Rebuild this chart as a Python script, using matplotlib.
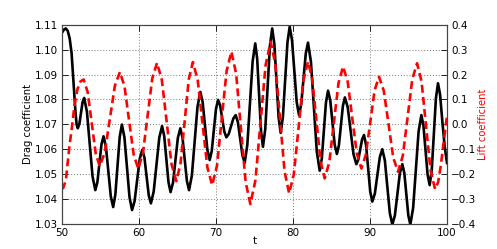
import matplotlib
matplotlib.use("Agg")
import matplotlib.pyplot as plt

# Drag coefficient (black solid)
t_drag = [50.0, 50.25, 50.5, 50.75, 51.0, 51.25, 51.5, 51.75, 51.9, 52.05,
          52.26, 52.47, 52.67, 52.88,
          53.24, 53.6, 53.97, 54.33,
          54.6, 54.87, 55.13, 55.4,
          55.71, 56.03, 56.34, 56.65,
          56.93, 57.22, 57.5, 57.78,
          58.11, 58.44, 58.77, 59.1,
          59.43, 59.77, 60.1, 60.43,
          60.71, 60.99, 61.27, 61.55,
          61.91, 62.28, 62.64, 63.0,
          63.28, 63.55, 63.83, 64.1,
          64.42, 64.74, 65.05, 65.37,
          65.65, 65.94, 66.22, 66.5,
          66.87, 67.24, 67.6, 67.97,
          68.27, 68.58, 68.88, 69.18,
          69.45, 69.73, 70.0, 70.27,
          70.54, 70.81, 71.08, 71.35,
          71.65, 71.96, 72.26, 72.56,
          72.85, 73.15, 73.44, 73.73,
          74.07, 74.42, 74.76, 75.1,
          75.35, 75.6, 75.85, 76.1,
          76.4, 76.7, 77.0, 77.3,
          77.58, 77.85, 78.13, 78.4,
          78.69, 78.99, 79.28, 79.57,
          79.87, 80.18, 80.48, 80.78,
          81.07, 81.37, 81.66, 81.95,
          82.33, 82.71, 83.09, 83.47,
          83.74, 84.01, 84.28, 84.55,
          84.84, 85.13, 85.41, 85.7,
          85.96, 86.22, 86.48, 86.74,
          87.11, 87.49, 87.86, 88.23,
          88.48, 88.73, 88.97, 89.22,
          89.49, 89.76, 90.03, 90.3,
          90.63, 90.95, 91.28, 91.6,
          91.93, 92.25, 92.58, 92.9,
          93.23, 93.55, 93.88, 94.2,
          94.46, 94.72, 94.98, 95.24,
          95.6, 95.96, 96.31, 96.67,
          96.94, 97.21, 97.48, 97.75,
          98.02, 98.29, 98.56, 98.83,
          99.1, 99.4, 99.7, 100.0]
drag = [1.1068, 1.1080, 1.1085, 1.1075, 1.1045, 1.0985, 1.0870, 1.0750, 1.0700, 1.0684,
        1.0702, 1.0745, 1.0788, 1.0806,
        1.0751, 1.0621, 1.0491, 1.0436,
        1.0468, 1.0544, 1.0620, 1.0652,
        1.0609, 1.0510, 1.0411, 1.0368,
        1.0418, 1.0534, 1.0650, 1.0699,
        1.0648, 1.0528, 1.0408, 1.0356,
        1.0392, 1.0477, 1.0562, 1.0598,
        1.0566, 1.0491, 1.0415, 1.0383,
        1.0430, 1.0538, 1.0647, 1.0693,
        1.0653, 1.0561, 1.0468, 1.0428,
        1.0466, 1.0556, 1.0646, 1.0684,
        1.0647, 1.0560, 1.0473, 1.0436,
        1.0495, 1.0633, 1.0771, 1.0830,
        1.0789, 1.0694, 1.0598, 1.0557,
        1.0593, 1.0678, 1.0762, 1.0798,
        1.0776, 1.0723, 1.0671, 1.0648,
        1.0661, 1.0693, 1.0724, 1.0737,
        1.0708, 1.0642, 1.0575, 1.0546,
        1.0618, 1.0786, 1.0953, 1.1025,
        1.0963, 1.0818, 1.0672, 1.0610,
        1.0681, 1.0848, 1.1014, 1.1085,
        1.1022, 1.0876, 1.0729, 1.0666,
        1.0730, 1.0879, 1.1028, 1.1092,
        1.1039, 1.0915, 1.0790, 1.0737,
        1.0781, 1.0883, 1.0984, 1.1028,
        1.0951, 1.0771, 1.0591, 1.0514,
        1.0562, 1.0675, 1.0787, 1.0835,
        1.0797, 1.0708, 1.0619, 1.0581,
        1.0615, 1.0695, 1.0774, 1.0808,
        1.0768, 1.0674, 1.0580, 1.0540,
        1.0558, 1.0599, 1.0639, 1.0657,
        1.0617, 1.0524, 1.0430, 1.0390,
        1.0422, 1.0495, 1.0569, 1.0600,
        1.0555, 1.0449, 1.0343, 1.0298,
        1.0334, 1.0419, 1.0504, 1.0540,
        1.0504, 1.0419, 1.0334, 1.0298,
        1.0364, 1.0518, 1.0671, 1.0737,
        1.0695, 1.0597, 1.0498, 1.0456,
        1.0517, 1.0661, 1.0804, 1.0865,
        1.0820, 1.0710, 1.0610, 1.0545]

# Lift coefficient (red dashed)
t_lift = [50.0, 50.15, 50.5, 50.96, 51.3, 51.6, 52.0, 52.4, 52.82,
          53.34, 53.86, 54.38, 54.9,
          55.56, 56.21, 56.87, 57.52,
          58.12, 58.71, 59.31, 59.9,
          60.51, 61.12, 61.73, 62.34,
          62.97, 63.6, 64.22, 64.85,
          65.39, 65.93, 66.46, 67.0,
          67.63, 68.25, 68.88, 69.5,
          70.13, 70.75, 71.38, 72.0,
          72.62, 73.23, 73.85, 74.46,
          75.12, 75.78, 76.44, 77.1,
          77.7, 78.3, 78.9, 79.5,
          80.11, 80.73, 81.34, 81.95,
          82.49, 83.04, 83.58, 84.12,
          84.72, 85.31, 85.91, 86.5,
          87.1, 87.69, 88.29, 88.88,
          89.45, 90.03, 90.6, 91.17,
          91.79, 92.41, 93.02, 93.64,
          94.26, 94.88, 95.49, 96.11,
          96.7, 97.28, 97.87, 98.45,
          98.85, 99.2, 99.55, 100.0]
lift = [-0.250, -0.256, -0.225, -0.090, -0.010, 0.071, 0.140, 0.172, 0.180,
        0.129, 0.006, -0.117, -0.168,
        -0.113, 0.021, 0.155, 0.210,
        0.153, 0.016, -0.121, -0.178,
        -0.116, 0.0345, 0.185, 0.247,
        0.178, 0.0095, -0.159, -0.228,
        -0.158, 0.011, 0.180, 0.250,
        0.178, 0.003, -0.172, -0.244,
        -0.166, 0.024, 0.214, 0.292,
        0.203, -0.014, -0.231, -0.320,
        -0.225, 0.006, 0.237, 0.332,
        0.243, 0.0275, -0.188, -0.277,
        -0.200, -0.0125, 0.175, 0.252,
        0.184, 0.0175, -0.149, -0.217,
        -0.151, 0.0075, 0.166, 0.232,
        0.172, 0.0275, -0.117, -0.177,
        -0.123, 0.007, 0.137, 0.191,
        0.135, 0.0005, -0.134, -0.190,
        -0.126, 0.0275, 0.181, 0.245,
        0.171, -0.0075, -0.186, -0.260,
        -0.232, -0.165, -0.075, 0.035]

drag_ticks = [1.03, 1.04, 1.05, 1.06, 1.07, 1.08, 1.09, 1.10, 1.11]
lift_ticks = [-0.4, -0.3, -0.2, -0.1, 0.0, 0.1, 0.2, 0.3, 0.4]
t_ticks = [50, 60, 70, 80, 90, 100]

fig = plt.figure(figsize=(4.97, 2.49), dpi=100)
ax1 = fig.add_axes([0.1247, 0.1004, 0.7747, 0.8004])
ax2 = ax1.twinx()

ax1.plot(t_drag, drag, color="black", lw=1.9, solid_joinstyle="round", zorder=3)
ax2.plot(t_lift, lift, color="red", lw=1.9, linestyle=(0, (3.0, 1.6)))

ax1.set_xlim(50, 100)
ax1.set_ylim(1.03, 1.11)
ax2.set_ylim(-0.4, 0.4)
ax1.set_xticks(t_ticks)
ax1.set_yticks(drag_ticks)
ax1.set_yticklabels(["%.2f" % v for v in drag_ticks])
ax2.set_yticks(lift_ticks)
ax2.set_yticklabels([("\u2212%.1f" % -v) if v < 0 else "%.1f" % v for v in lift_ticks])

ax1.grid(True, color="#777777", linestyle=(0, (1, 2)), linewidth=0.7)
ax1.set_axisbelow(True)

for ax in (ax1, ax2):
    ax.tick_params(direction="in", labelsize=7.5, length=4, width=0.6, pad=3)
    for s in ax.spines.values():
        s.set_linewidth(0.8)
        s.set_color("#444444")
ax1.tick_params(top=True)

ax1.set_xlabel("t", fontsize=7.5)
ax1.set_ylabel("Drag coefficient", fontsize=7.2)
ax2.set_ylabel("Lift coefficient", fontsize=7.2, color="red")
ax1.xaxis.set_label_coords(0.5, -0.06)
ax1.yaxis.set_label_coords(-0.075, 0.5)
ax2.yaxis.set_label_coords(1.080, 0.5)

fig.savefig("out.png", dpi=100)
